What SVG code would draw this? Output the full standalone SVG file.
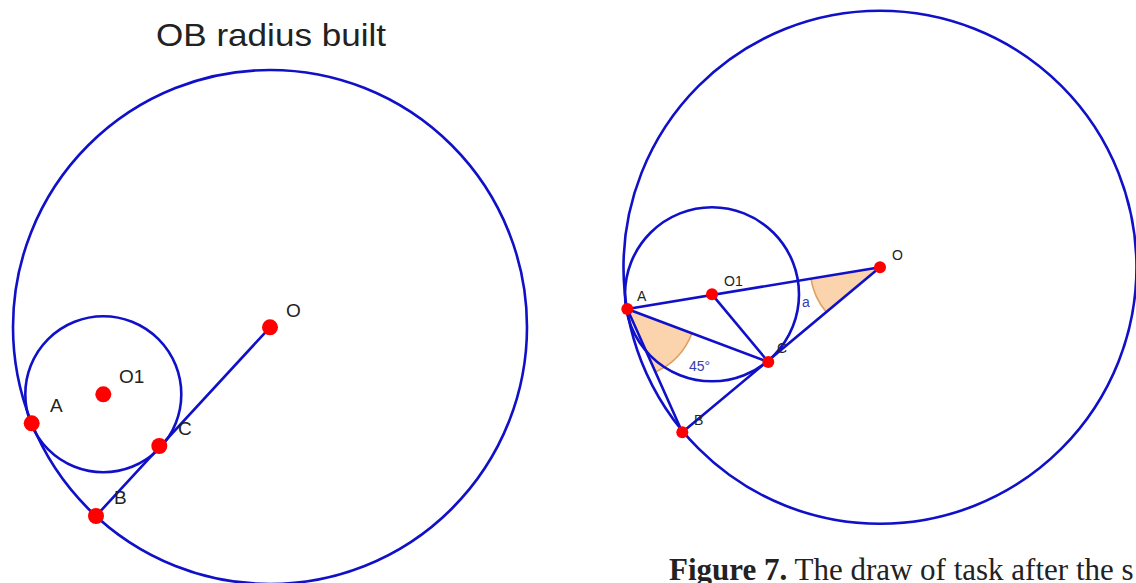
<svg xmlns="http://www.w3.org/2000/svg" width="1136" height="583" viewBox="0 0 1136 583">
<style>
.ln{fill:none;stroke:#1010c8;stroke-width:2.6;stroke-linecap:round}
.pt{fill:#ff0000}
.lbl{font-family:"Liberation Sans",Arial,sans-serif;fill:#222}
.big{font-size:19px}
.sm{font-size:14px}
.blue{fill:#3a3ab0}
.wedge{fill:#fbd3ac;stroke:none}
.warc{fill:none;stroke:#e0a060;stroke-width:1.6}
</style>
<rect width="1136" height="583" fill="#ffffff"/>
<text x="156" y="45.5" class="lbl" font-size="32" textLength="230" lengthAdjust="spacingAndGlyphs">OB radius built</text>

<g id="left-figure">
  <g id="left-circles">
    <circle cx="270" cy="327" r="257" class="ln"/>
    <circle cx="103.3" cy="394.3" r="78" class="ln"/>
  </g>
  <g id="left-connectors">
    <line x1="270" y1="327.3" x2="96" y2="516" class="ln"/>
  </g>
  <g id="left-A"><circle cx="31.7" cy="423.3" r="8" class="pt"/><text x="50" y="411.5" class="lbl big">A</text></g>
  <g id="left-O1"><circle cx="103.3" cy="394.3" r="8" class="pt"/><text x="119" y="382.5" class="lbl big">O1</text></g>
  <g id="left-C"><circle cx="159.3" cy="446" r="8" class="pt"/><text x="178" y="435" class="lbl big">C</text></g>
  <g id="left-B"><circle cx="96" cy="516" r="8" class="pt"/><text x="114" y="504" class="lbl big">B</text></g>
  <g id="left-O"><circle cx="270" cy="327.3" r="8" class="pt"/><text x="286" y="317" class="lbl big">O</text></g>
</g>

<g id="right-figure">
  <g id="angles">
    <path class="wedge" d="M627.3,309 L691.9,333.3 A69,69 0 0 1 655.5,372 Z"/>
    <path class="warc" d="M691.9,333.3 A69,69 0 0 1 655.5,372"/>
    <path class="wedge" d="M880,267.3 L810.9,278.7 A70,70 0 0 0 826.2,312.1 Z"/>
    <path class="warc" d="M810.9,278.7 A70,70 0 0 0 826.2,312.1"/>
  </g>
  <g id="right-circles">
    <circle cx="880" cy="267.3" r="256.5" class="ln"/>
    <circle cx="712" cy="294.3" r="87" class="ln"/>
  </g>
  <g id="right-connectors">
    <line x1="627.3" y1="309" x2="880" y2="267.3" class="ln"/>
    <line x1="712" y1="294.3" x2="768.3" y2="362" class="ln"/>
    <line x1="627.3" y1="309" x2="768.3" y2="362" class="ln"/>
    <line x1="880" y1="267.3" x2="682.3" y2="432.3" class="ln"/>
    <line x1="627.3" y1="309" x2="682.3" y2="432.3" class="ln"/>
  </g>
  <g id="right-A"><circle cx="627.3" cy="309" r="6" class="pt"/><text x="637" y="301" class="lbl sm">A</text></g>
  <g id="right-O1"><circle cx="712" cy="294.3" r="6" class="pt"/><text x="724" y="286" class="lbl sm">O1</text></g>
  <g id="right-O"><circle cx="880" cy="267.3" r="6" class="pt"/><text x="892" y="260" class="lbl sm">O</text></g>
  <g id="right-C"><circle cx="768.3" cy="362" r="6" class="pt"/><text x="777" y="353" class="lbl sm">C</text></g>
  <g id="right-B"><circle cx="682.3" cy="432.3" r="6" class="pt"/><text x="694" y="424.5" class="lbl sm">B</text></g>
  <text x="689" y="371" class="lbl sm blue">45°</text>
  <text x="802" y="306.5" class="lbl sm blue">a</text>
</g>

<text x="669" y="580" font-family="'Liberation Serif','Times New Roman',serif" font-size="31" fill="#222"><tspan font-weight="bold">Figure 7.</tspan> The draw of task after the s</text>
</svg>
